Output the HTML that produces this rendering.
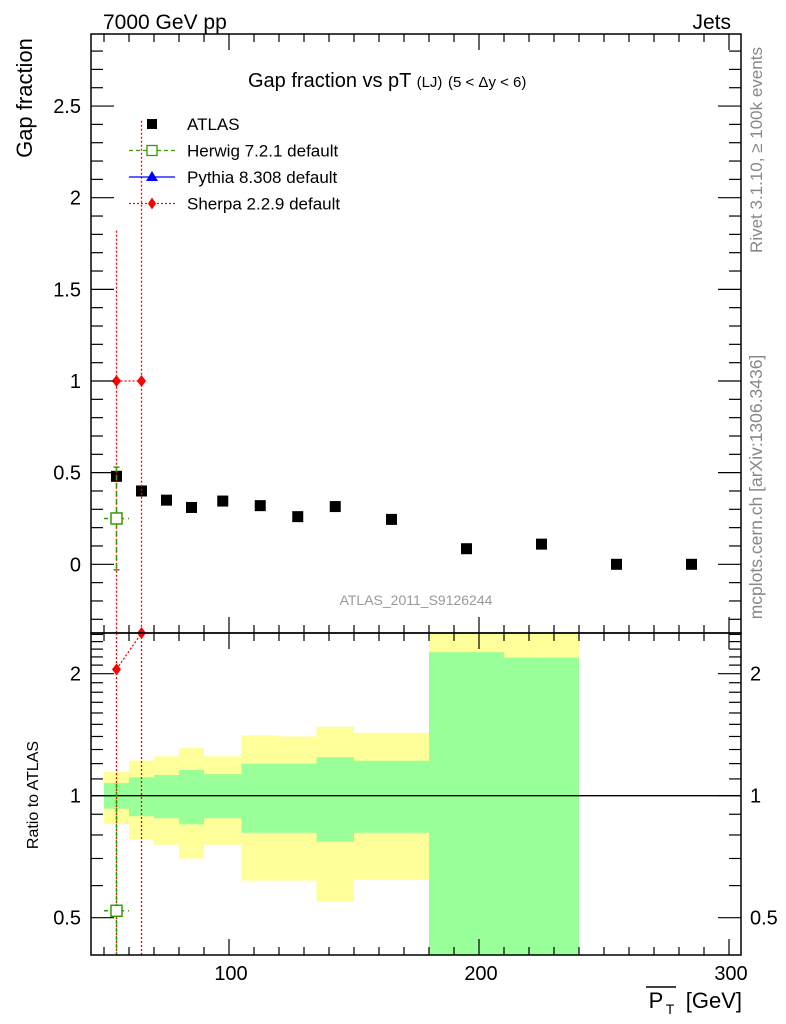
<!DOCTYPE html>
<html><head><meta charset="utf-8">
<style>
html,body{margin:0;padding:0;background:#fff;}
svg{display:block;font-family:"Liberation Sans",sans-serif;}
</style></head>
<body>
<svg id="chart" width="786" height="1024" viewBox="0 0 786 1024" xmlns="http://www.w3.org/2000/svg">
  <g id="bands"></g>
  <g id="marks"></g>
  <g id="axes"></g>
  <text x="103" y="29" font-size="21">7000 GeV pp</text>
  <text x="731" y="29" font-size="21" text-anchor="end">Jets</text>
  <text x="248" y="87" font-size="20">Gap fraction vs pT <tspan font-size="15">(LJ)</tspan> <tspan font-size="15">(5 &lt; Δy &lt; 6)</tspan></text>
  <text transform="translate(32,98) rotate(-90)" font-size="22" text-anchor="middle">Gap fraction</text>
  <text transform="translate(38,795) rotate(-90)" font-size="16" text-anchor="middle">Ratio to ATLAS</text>
  <text transform="translate(762,150) rotate(-90)" font-size="17" fill="#888" text-anchor="middle">Rivet 3.1.10, ≥ 100k events</text>
  <text transform="translate(762,487) rotate(-90)" font-size="17.5" fill="#888" text-anchor="middle">mcplots.cern.ch [arXiv:1306.3436]</text>
  <text x="416" y="605" font-size="14" fill="#999" text-anchor="middle">ATLAS_2011_S9126244</text>
  <g>
    <text x="742" y="1008" font-size="22" text-anchor="end">[GeV]</text>
    <text x="656" y="1008" font-size="22" text-anchor="middle">P</text>
    <text x="670" y="1014" font-size="14" text-anchor="middle">T</text>
    <line x1="646" y1="987" x2="676" y2="987" stroke="#000" stroke-width="1.5"/>
  </g>
  <g id="legend"></g>
</svg>
<script>
// ---- data ----
const binLow  = [50,60,70,80,90,105,120,135,150,180,210,240,270];
const binHigh = [60,70,80,90,105,120,135,150,180,210,240,270,300];
const atlasX  = [55,65,75,85,97.5,112.5,127.5,142.5,165,195,225,255,285];
const atlasY  = [0.48,0.40,0.35,0.31,0.345,0.32,0.26,0.315,0.245,0.085,0.11,0,0];
const greenHi = [1.075,1.11,1.125,1.157,1.13,1.20,1.20,1.245,1.22,2.26,2.19];
const greenLo = [0.929,0.89,0.88,0.85,0.88,0.81,0.81,0.77,0.81,0.1,0.1];
const yellowHi= [1.144,1.22,1.25,1.31,1.25,1.41,1.40,1.48,1.43,3.0,3.0];
const yellowLo= [0.851,0.78,0.757,0.70,0.757,0.617,0.617,0.547,0.62,0.1,0.1];
const herwigX = [55];
const herwigY = [0.25];
const herwigErrHi = [0.53];
const herwigErrLo = [-0.03];
const herwigRatio = [0.52];
const sherpaX = [55,65];
const sherpaY = [1.0,1.0];
const sherpaErrHi = [1.82,2.42];
const sherpaErrLo = [-1,-1];
const sherpaRatio = [2.05,2.6];
const xTicks = [100,200,300];
const yTicks = [0,0.5,1,1.5,2,2.5];
const yTickLabels = ["0","0.5","1","1.5","2","2.5"];
const rTicks = [0.5,1,2];
const rTickLabels = ["0.5","1","2"];

// ---- geometry ----
const L=91,R=741,T=34,MB=633,RB=955;
const X=v=>229+(v-100)*2.5;
const Y=v=>564.3-v*183.3;
const RY=v=>795.7-Math.log2(v)*122;
const NS="http://www.w3.org/2000/svg";
function mk(tag,attrs,parent){const e=document.createElementNS(NS,tag);for(const k in attrs)e.setAttribute(k,attrs[k]);parent.appendChild(e);return e;}
const bands=document.getElementById('bands'),marks=document.getElementById('marks'),axes=document.getElementById('axes'),legend=document.getElementById('legend');
const clampR=v=>Math.min(RB,Math.max(MB,v));

// bands
for(let i=0;i<yellowHi.length;i++){
  const x1=X(binLow[i]),x2=X(binHigh[i]);
  let y1=clampR(RY(yellowHi[i])),y2=clampR(RY(yellowLo[i]));
  const yb=mk('rect',{x:x1,y:y1,width:x2-x1,height:y2-y1,fill:'#ffff99'},bands);
  
  
  y1=clampR(RY(greenHi[i]));y2=clampR(RY(greenLo[i]));
  const gb=mk('rect',{x:x1,y:y1,width:x2-x1,height:y2-y1,fill:'#99ff99'},bands);
  
  
}
// ratio unity line
const ul=mk('line',{x1:L,x2:R,y1:RY(1),y2:RY(1),stroke:'#000','stroke-width':1.3},marks);



// ATLAS points
for(let i=0;i<atlasX.length;i++){
  const r=mk('rect',{x:X(atlasX[i])-5.5,y:Y(atlasY[i])-5.5,width:11,height:11,fill:'#000'},marks);
  
  
}
// Sherpa
const sherpaPts=sherpaX.map((x,i)=>X(x)+','+Y(sherpaY[i])).join(' ');
const sl=mk('polyline',{points:sherpaPts,fill:'none',stroke:'red','stroke-width':1.3,'stroke-dasharray':'2,2'},marks);


const srPts=sherpaX.map((x,i)=>X(x)+','+clampR(RY(sherpaRatio[i]))).join(' ');
const srl=mk('polyline',{points:srPts,fill:'none',stroke:'red','stroke-width':1.3,'stroke-dasharray':'2,2'},marks);


for(let i=0;i<sherpaX.length;i++){
  const x=X(sherpaX[i]);
  const e=mk('line',{x1:x,x2:x,y1:Math.max(T,Y(sherpaErrHi[i])),y2:MB,stroke:'red','stroke-width':1.3,'stroke-dasharray':'2,2'},marks);
  
  
  const e2=mk('line',{x1:x,x2:x,y1:MB,y2:RB,stroke:'red','stroke-width':1.3,'stroke-dasharray':'2,2'},marks);
  
  
  const y=Y(sherpaY[i]);
  const d=mk('polygon',{points:`${x},${y-6} ${x+4.5},${y} ${x},${y+6} ${x-4.5},${y}`,fill:'red'},marks);
  
  
  const ry=clampR(RY(sherpaRatio[i]));
  const d2=mk('polygon',{points:`${x},${ry-6} ${x+4.5},${ry} ${x},${ry+6} ${x-4.5},${ry}`,fill:'red'},marks);
  
  
}
// Herwig
for(let i=0;i<herwigX.length;i++){
  const x=X(herwigX[i]),y=Y(herwigY[i]),ry=RY(herwigRatio[i]);
  const x1=X(binLow[i]),x2=X(binHigh[i]);
  const g=mk('g',{stroke:'#3a9a00','stroke-width':1.5,fill:'none'},marks);
  
  
  mk('line',{x1:x,x2:x,y1:Y(herwigErrHi[i]),y2:Y(herwigErrLo[i]),'stroke-dasharray':'5,3'},g);
  mk('line',{x1:x-3,x2:x+3,y1:Y(herwigErrHi[i]),y2:Y(herwigErrHi[i])},g);
  mk('line',{x1:x-3,x2:x+3,y1:Y(herwigErrLo[i]),y2:Y(herwigErrLo[i])},g);
  mk('line',{x1:x1,x2:x2,y1:y,y2:y,'stroke-dasharray':'4,4'},g);
  mk('rect',{x:x-5.5,y:y-5.5,width:11,height:11,fill:'#fff'},g);
  const g2=mk('g',{stroke:'#3a9a00','stroke-width':1.5,fill:'none'},marks);
  
  
  mk('line',{x1:x,x2:x,y1:RY(1.07),y2:RB,'stroke-dasharray':'5,3'},g2);
  mk('line',{x1:x1,x2:x2,y1:ry,y2:ry,'stroke-dasharray':'4,4'},g2);
  mk('rect',{x:x-5.5,y:ry-5.5,width:11,height:11,fill:'#fff'},g2);
}

// axes frames
for(const [t,b,n] of [[T,MB,'main-frame'],[MB,RB,'ratio-frame']]){
  const f=mk('rect',{x:L,y:t,width:R-L,height:b-t,fill:'none',stroke:'#000','stroke-width':1.5},axes);
  
  
}
// x ticks
for(let v=50;v<=300;v+=10){
  const x=X(v);const major=v%100===0;const len=major?16:8;
  for(const [t,b] of [[T,MB],[MB,RB]]){
    mk('line',{x1:x,x2:x,y1:b,y2:b-len,stroke:'#000','stroke-width':1.2},axes);
    mk('line',{x1:x,x2:x,y1:t,y2:t+len,stroke:'#000','stroke-width':1.2},axes);
  }
}
xTicks.forEach(v=>{
  const t=mk('text',{x:X(v)+2,y:980,'font-size':20,'text-anchor':'middle'},axes);t.textContent=v;
  
  
});
// main y ticks
for(let k=-3;k<=28;k++){
  const v=k/10,y=Y(v);if(y<T||y>MB)continue;const major=k%5===0;const len=major?23:12;
  mk('line',{x1:L,x2:L+len,y1:y,y2:y,stroke:'#000','stroke-width':1.2},axes);
  mk('line',{x1:R,x2:R-len,y1:y,y2:y,stroke:'#000','stroke-width':1.2},axes);
}
yTicks.forEach((v,i)=>{
  const t=mk('text',{x:81,y:Y(v)+7,'font-size':20,'text-anchor':'end'},axes);t.textContent=yTickLabels[i];
  
  
});
// ratio ticks (log)
const minorR=[0.5,0.6,0.7,0.8,0.9,1,1.1,1.2,1.3,1.4,1.5,1.6,1.7,1.8,1.9,2,2.1,2.2,2.3,2.4,2.5];
minorR.forEach(v=>{
  const y=RY(v);if(y<MB||y>RB)return;const major=rTicks.includes(v);const len=major?23:12;
  mk('line',{x1:L,x2:L+len,y1:y,y2:y,stroke:'#000','stroke-width':1.2},axes);
  mk('line',{x1:R,x2:R-len,y1:y,y2:y,stroke:'#000','stroke-width':1.2},axes);
});
rTicks.forEach((v,i)=>{
  const t=mk('text',{x:81,y:RY(v)+7,'font-size':20,'text-anchor':'end'},axes);t.textContent=rTickLabels[i];
  
  
  const t2=mk('text',{x:750,y:RY(v)+7,'font-size':20},axes);t2.textContent=rTickLabels[i];
  
  
});

// legend
const entries=[['ATLAS','atlas'],['Herwig 7.2.1 default','herwig'],['Pythia 8.308 default','pythia'],['Sherpa 2.2.9 default','sherpa']];
entries.forEach((e,i)=>{
  const y=124+i*26.5;const cx=152;
  const g=mk('g',{},legend);
  
  
  if(e[1]==='atlas'){mk('rect',{x:cx-5,y:y-5,width:10,height:10,fill:'#000'},g);}
  if(e[1]==='herwig'){mk('line',{x1:129,x2:175,y1:y,y2:y,stroke:'#3a9a00','stroke-width':1.3,'stroke-dasharray':'4,3'},g);mk('rect',{x:cx-5,y:y-5,width:10,height:10,fill:'#fff',stroke:'#3a9a00','stroke-width':1.3},g);}
  if(e[1]==='pythia'){mk('line',{x1:129,x2:175,y1:y,y2:y,stroke:'#00f','stroke-width':1.3},g);mk('polygon',{points:`${cx},${y-6} ${cx+6},${y+4} ${cx-6},${y+4}`,fill:'#00f'},g);}
  if(e[1]==='sherpa'){mk('line',{x1:129,x2:175,y1:y,y2:y,stroke:'red','stroke-width':1.3,'stroke-dasharray':'2,2'},g);mk('polygon',{points:`${cx},${y-6} ${cx+4},${y} ${cx},${y+6} ${cx-4},${y}`,fill:'red'},g);}
  const t=mk('text',{x:187,y:y+6,'font-size':17},g);t.textContent=e[0];
});
</script>
</body></html>
